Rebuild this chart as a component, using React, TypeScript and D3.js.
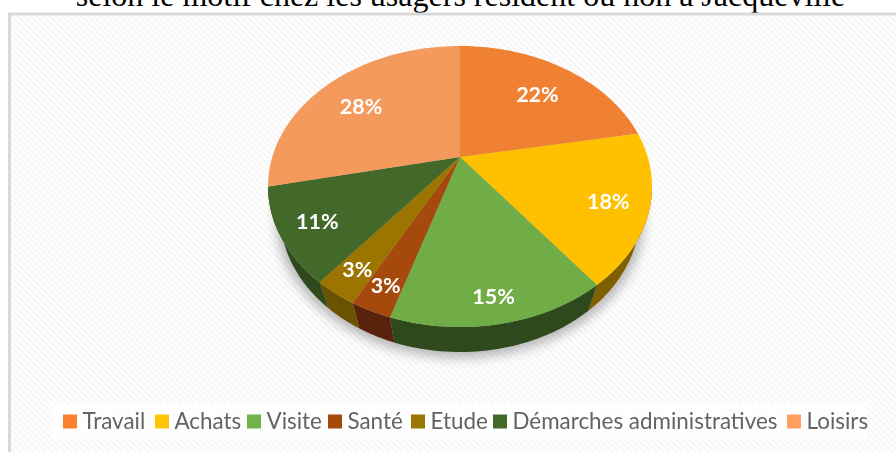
import React from "react";
import * as d3 from "d3";

const W = 896, H = 452;
const categories = ["Travail", "Achats", "Visite", "Santé", "Etude", "Démarches administratives", "Loisirs"];
const shares = [22, 18, 15, 3, 3, 11, 28];
const topColors = ["#f08033", "#ffc000", "#70ad47", "#a5480f", "#9b7400", "#43682b", "#f59a5d"];
const wallColors = ["#8f4a1c", "#7f6000", "#2f4a1e", "#5a2408", "#6b5200", "#2f4a1e", "#8f5a36"];
const legendColors = ["#f9812f", "#ffc600", "#70b44a", "#a5480f", "#9b7400", "#43682b", "#ffa060"];
const title = "selon le motif chez les usagers résident ou non à Jacqueville";

// Layout
const CX = 460, CY = 186.5, RX = 192, RY = 140.5;
const BASE_CY = 214, BASE_RX = 180, BASE_RY = 138; // the base of the tilted pie is a smaller ellipse
const APEX_Y = 157; // the slices of the tilted pie meet above the ellipse's centre
const LEGEND_SWATCH_X = [63, 155, 247, 328, 411, 493, 787];
// Tilted-pie projection: cumulative share -> on-screen angle in degrees (front slices look larger)
const cumulative = [0, ...d3.cumsum(shares)];
const projected = [0, 68, 134.5, 201.4, 214, 227, 270, 360];
const angleOf = d3.scaleLinear().domain(cumulative).range(projected.map(d => (d * Math.PI) / 180));

const onEllipse = (a: number): [number, number] => [CX + RX * Math.sin(a), CY - RY * Math.cos(a)];
const onBase = (a: number): [number, number] => [CX + BASE_RX * Math.sin(a), BASE_CY - BASE_RY * Math.cos(a)];
const sweep = (a0: number, a1: number, n = 60) => d3.range(0, n + 1).map(i => a0 + ((a1 - a0) * i) / n);

const slicePath = (a0: number, a1: number) =>
  d3.line()([[CX, APEX_Y], ...sweep(a0, a1).map(onEllipse)]) + "Z";

const wallPath = (a0: number, a1: number) => {
  const from = Math.max(a0, Math.PI / 2), to = Math.min(a1, (3 * Math.PI) / 2);
  if (to <= from) return null;
  const steps = sweep(from, to, 40);
  return d3.line()([...steps.map(onEllipse), ...steps.slice().reverse().map(onBase)]) + "Z";
};

const pieData = shares.map((v, i) => ({
  value: v,
  name: categories[i],
  startAngle: angleOf(cumulative[i]),
  endAngle: angleOf(cumulative[i + 1]),
}));

const labelPos = (mid: number): [number, number] => {
  const [x, y] = onEllipse(mid);
  const f = 0.775 - 0.065 * Math.cos(mid);
  return [CX + f * (x - CX), APEX_Y + f * (y - APEX_Y)];
};

export default function App() {
  return (
    <svg width={W} height={H} style={{ position: "absolute", left: 0, top: 0, background: "#fff" }}>
      <defs>
        <pattern id="hatch" width="4.5" height="4.5" patternUnits="userSpaceOnUse" patternTransform="rotate(-45)">
          <rect width="4.5" height="4.5" fill="#ffffff" />
          <rect width="2" height="4.5" fill="#f6f6f6" />
        </pattern>
        <filter id="shadow" x="-20%" y="-20%" width="140%" height="140%">
          <feGaussianBlur stdDeviation="6" />
        </filter>
        <filter id="soft" x="-5%" y="-5%" width="110%" height="110%">
          <feGaussianBlur stdDeviation="0.45" />
        </filter>
      </defs>

      <text x={460.5} y={6} textAnchor="middle" fontFamily="'Liberation Serif'" fontSize={32} fill="#000">{title}</text>

      <rect x={9.5} y={14} width={W} height={H} fill="url(#hatch)" stroke="#d9d9d9" strokeWidth={3} />
      <rect x={52} y={403} width={815} height={36} fill="#fff" fillOpacity={0.75} />

      <g filter="url(#soft)">
        <ellipse cx={CX} cy={BASE_CY + 4} rx={BASE_RX + 4} ry={BASE_RY + 2} fill="#000" fillOpacity={0.28} filter="url(#shadow)" />
        {pieData.map((d, i) => {
          const p = wallPath(d.startAngle, d.endAngle);
          return p ? <path key={d.name} d={p} fill={wallColors[i]} /> : null;
        })}
        {pieData.map((d, i) => <path key={d.name} d={slicePath(d.startAngle, d.endAngle)} fill={topColors[i]} />)}
        {pieData.map(d => {
          const [x, y] = labelPos((d.startAngle + d.endAngle) / 2);
          return (
            <text key={d.name} x={x} y={y} dy="0.35em" textAnchor="middle" fontFamily="Lato" fontWeight={700} fontSize={21.5} fill="#fff">
              {d.value}%
            </text>
          );
        })}
        {categories.map((c, i) => (
          <g key={c}>
            <rect x={LEGEND_SWATCH_X[i]} y={414.5} width={14} height={14} fill={legendColors[i]} />
            <text x={LEGEND_SWATCH_X[i] + 19.5} y={428.5} fontFamily="Lato" fontSize={22.4} fill="#636363">{c}</text>
          </g>
        ))}
      </g>
    </svg>
  );
}
